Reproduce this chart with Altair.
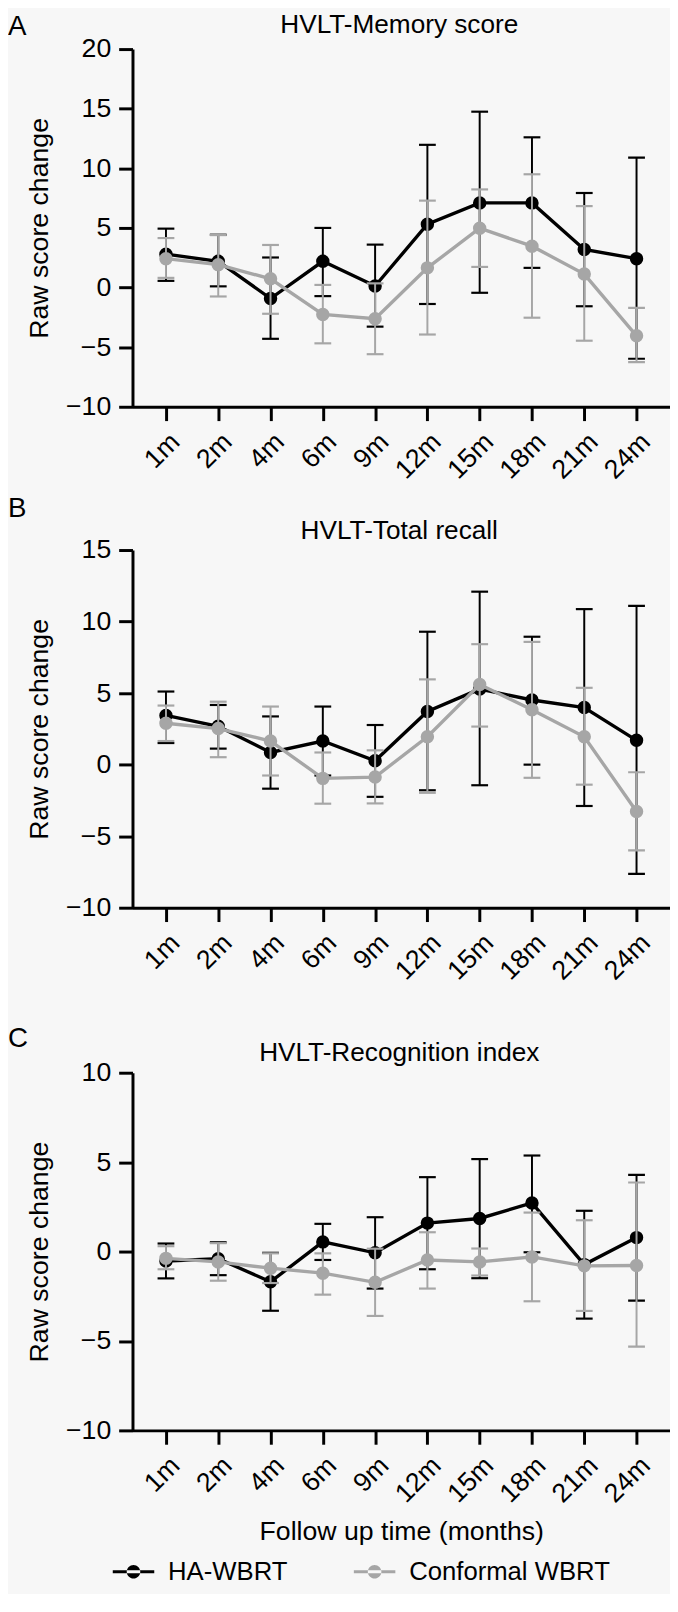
import altair as alt
import pandas as pd

FONT = "Liberation Sans"

months = ["1m", "2m", "4m", "6m", "9m", "12m", "15m", "18m", "21m", "24m"]
groups = ["HA-WBRT", "Conformal WBRT"]
colors = ["#000000", "#a6a6a6"]

panel_letters = ["A", "B", "C"]
panel_titles = ["HVLT-Memory score", "HVLT-Total recall", "HVLT-Recognition index"]
y_domains = [[-10, 20], [-10, 15], [-10, 10]]
y_ticks = [[-10, -5, 0, 5, 10, 15, 20], [-10, -5, 0, 5, 10, 15], [-10, -5, 0, 5, 10]]

# Panel A: HVLT-Memory score
mem_ha_mean = [2.8, 2.2, -0.92, 2.2, 0.13, 5.31, 7.1, 7.1, 3.19, 2.42]
mem_ha_lo = [0.56, 0.1, -4.3, -0.72, -3.28, -1.38, -0.44, 1.65, -1.57, -5.97]
mem_ha_hi = [4.94, 4.43, 2.52, 5.0, 3.6, 11.97, 14.75, 12.6, 7.93, 10.9]
mem_cf_mean = [2.42, 1.92, 0.73, -2.26, -2.62, 1.65, 4.98, 3.47, 1.13, -4.05]
mem_cf_lo = [0.81, -0.75, -2.2, -4.68, -5.59, -3.94, 1.73, -2.53, -4.46, -6.25]
mem_cf_hi = [4.15, 4.4, 3.57, 0.22, 0.35, 7.29, 8.23, 9.5, 6.83, -1.71]

# Panel B: HVLT-Total recall
tot_ha_mean = [3.44, 2.68, 0.85, 1.65, 0.27, 3.72, 5.28, 4.52, 3.99, 1.7]
tot_ha_lo = [1.51, 1.12, -1.68, -0.76, -2.25, -1.79, -1.44, 0.0, -2.89, -7.64]
tot_ha_hi = [5.11, 4.17, 3.37, 4.06, 2.77, 9.29, 12.09, 8.94, 10.87, 11.1]
tot_cf_mean = [2.89, 2.52, 1.65, -0.96, -0.87, 1.95, 5.6, 3.83, 1.95, -3.28]
tot_cf_lo = [1.65, 0.52, -0.76, -2.73, -2.71, -1.97, 2.66, -0.92, -1.4, -5.99]
tot_cf_hi = [4.13, 4.4, 4.06, 0.85, 1.0, 5.96, 8.42, 8.58, 5.37, -0.53]

# Panel C: HVLT-Recognition index
rec_ha_mean = [-0.53, -0.40, -1.69, 0.54, -0.07, 1.59, 1.85, 2.72, -0.73, 0.78]
rec_ha_lo = [-1.5, -1.32, -3.31, -0.47, -2.07, -0.99, -1.49, -0.04, -3.75, -2.74]
rec_ha_hi = [0.45, 0.52, -0.07, 1.55, 1.92, 4.16, 5.17, 5.37, 2.28, 4.29]
rec_cf_mean = [-0.38, -0.58, -0.93, -1.21, -1.72, -0.47, -0.58, -0.30, -0.80, -0.78]
rec_cf_lo = [-0.99, -1.63, -1.76, -2.41, -3.6, -2.07, -1.34, -2.78, -3.32, -5.32]
rec_cf_hi = [0.3, 0.47, -0.1, -0.1, 0.16, 1.08, 0.17, 2.18, 1.75, 3.86]

W, H = 544, 362

# legend glyph: a short line with a dot, drawn a little left of the nominal symbol box
LEGEND_PATH = ("M-4.71,-0.22H1.29V0.22H-4.71Z "
               "M-2.69,0A0.98,0.98 0 1,0 -0.73,0A0.98,0.98 0 1,0 -2.69,0Z")


def make_df(ha, cf):
    rows = []
    for g, (m, lo, hi) in zip(groups, [ha, cf]):
        for t, a, b, c in zip(months, m, lo, hi):
            rows.append({"group": g, "time": t, "mean": a, "lo": b, "hi": c})
    return pd.DataFrame(rows)


color_scale = alt.Scale(domain=groups, range=colors)

legend_def = alt.Legend(
    title=None, orient="bottom", offset=14, direction="horizontal",
    symbolType=LEGEND_PATH, symbolSize=196, symbolStrokeWidth=0,
    labelFontSize=26, labelFont=FONT, labelColor="black", labelOffset=10,
    labelLimit=300, columnPadding=67, padding=0,
)


def panel(i, df, show_xtitle, letter_y, title_y):
    yscale = alt.Scale(domain=y_domains[i], nice=False, zero=False)
    yaxis = alt.Axis(title="Raw score change", values=y_ticks[i])
    xaxis = alt.Axis(title="Follow up time (months)" if show_xtitle else None, labelAngle=-45)
    x_enc = alt.X("time:N", sort=months, scale=alt.Scale(type="point", padding=0.64), axis=xaxis)

    letter = alt.Chart(pd.DataFrame({"label": [panel_letters[i]]})).mark_text(
        align="left", baseline="alphabetic", fontSize=28, font=FONT, color="black"
    ).encode(text="label:N", x=alt.value(-126), y=alt.value(letter_y))
    title = alt.Chart(pd.DataFrame({"label": [panel_titles[i]]})).mark_text(
        align="center", baseline="alphabetic", fontSize=26.5, font=FONT, color="black"
    ).encode(text="label:N", x=alt.value(W / 2 - 2), y=alt.value(title_y))

    layers = [letter, title]
    for gi, g in enumerate(groups):
        base = alt.Chart(df).transform_filter(alt.datum.group == g)
        c = alt.value(colors[gi])
        rule = base.mark_rule(strokeWidth=2).encode(
            x=x_enc, y=alt.Y("lo:Q", scale=yscale, axis=yaxis), y2="hi:Q", color=c)
        tlo = base.mark_tick(thickness=2.2, size=17, opacity=1).encode(
            x=x_enc, y=alt.Y("lo:Q", scale=yscale, axis=yaxis), color=c)
        thi = base.mark_tick(thickness=2.2, size=17, opacity=1).encode(
            x=x_enc, y=alt.Y("hi:Q", scale=yscale, axis=yaxis), color=c)
        line = base.mark_line(strokeWidth=3.4).encode(
            x=x_enc, y=alt.Y("mean:Q", scale=yscale, axis=yaxis), color=c)
        pts = base.mark_point(filled=True, size=185, opacity=1).encode(
            x=x_enc, y=alt.Y("mean:Q", scale=yscale, axis=yaxis),
            color=alt.Color("group:N", scale=color_scale, legend=legend_def))
        layers += [rule, tlo, thi, line, pts]
    return alt.layer(*layers).properties(width=W, height=H)


pA = panel(0, make_df((mem_ha_mean, mem_ha_lo, mem_ha_hi), (mem_cf_mean, mem_cf_lo, mem_cf_hi)),
           False, -14, -16)
pB = panel(1, make_df((tot_ha_mean, tot_ha_lo, tot_ha_hi), (tot_cf_mean, tot_cf_lo, tot_cf_hi)),
           False, -33, -11)
pC = panel(2, make_df((rec_ha_mean, rec_ha_lo, rec_ha_hi), (rec_cf_mean, rec_cf_lo, rec_cf_hi)),
           True, -26, -12)

inner = alt.vconcat(pA, pB, spacing=12)
chart = alt.vconcat(inner, pC, spacing=41).properties(
    padding={"left": 0, "right": 0, "top": -5, "bottom": 0}
)

chart = chart.configure(background="#f7f7f7", font=FONT).configure_view(
    stroke=None
).configure_axis(
    domainColor="black", domainWidth=3, tickColor="black", tickWidth=3, tickSize=14,
    labelColor="black", labelFontSize=27, labelFont=FONT, titleFont=FONT,
    titleFontSize=27, titleFontWeight="normal", titleColor="black", grid=False,
    labelPadding=8, labelFlush=False, labelOverlap=False,
).configure_axisY(titlePadding=12).configure_axisX(titlePadding=12)

chart.save("out.html", embed_options={"renderer": "svg", "actions": False})
